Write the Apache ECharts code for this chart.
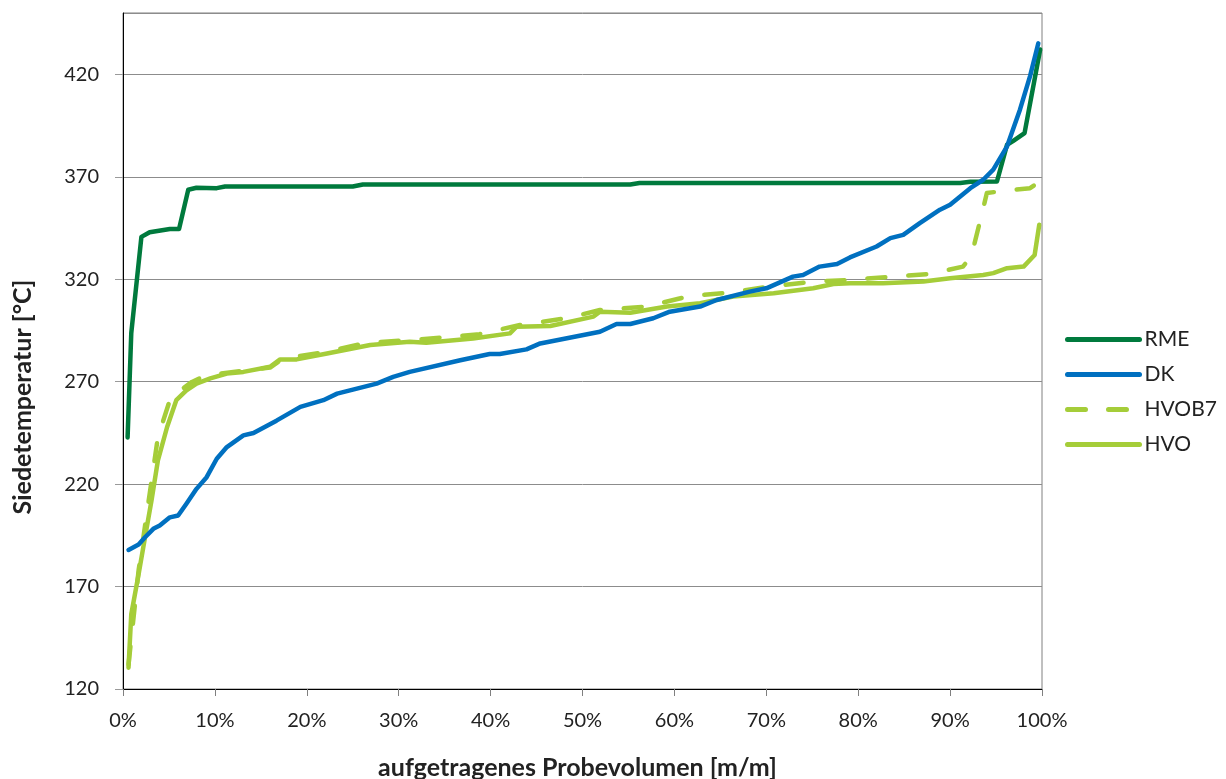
<!DOCTYPE html>
<html>
<head>
<meta charset="utf-8">
<script src="https://cdn.jsdelivr.net/npm/echarts@6/dist/echarts.min.js"></script>
<style>html,body{margin:0;padding:0;background:#fff;}#c{width:1226px;height:779px;}</style>
</head>
<body>
<div id="c"></div>
<script>
// x in percent of sample volume, y in °C
const rme = [[0.5,242.8],[0.9,293.8],[2.0,340.7],[2.9,343.0],[5.1,344.6],[6.1,344.6],[7.1,363.7],[8.0,364.7],[10.2,364.5],[11.1,365.3],[25.0,365.3],[26.1,366.3],[55.2,366.3],[56.2,367.0],[91.1,367.0],[92.2,367.6],[95.1,367.8],[96.2,385.7],[96.8,387.3],[98.1,391.4],[99.8,432.2]];
const dk = [[0.6,187.9],[1.7,190.5],[2.4,194.1],[3.3,198.2],[4.0,199.8],[5.1,203.8],[6.0,204.7],[6.9,210.4],[8.0,217.7],[9.1,223.4],[10.2,232.4],[11.3,238.1],[13.1,243.8],[14.2,245.0],[16.7,251.0],[19.3,257.7],[21.8,261.0],[23.3,264.2],[27.6,269.1],[29.4,272.4],[31.2,274.8],[36.7,280.5],[39.9,283.5],[41.0,283.5],[43.9,285.8],[45.4,288.7],[51.9,294.4],[53.7,298.2],[55.2,298.2],[57.7,301.0],[59.5,304.2],[62.8,306.7],[64.6,309.9],[68.2,314.0],[70.0,315.6],[72.9,321.3],[74.0,322.1],[75.8,326.2],[77.7,327.5],[79.1,330.7],[82.0,336.0],[83.5,340.1],[84.9,341.7],[86.7,347.4],[88.9,354.0],[90.0,356.4],[92.2,364.5],[93.6,368.6],[94.7,373.5],[96.2,384.9],[97.6,402.8],[98.7,419.2],[99.6,435.2]];
const hvob7 = [[0.6,132.0],[1.7,178.0],[2.9,215.2],[3.8,243.0],[5.1,261.0],[5.3,262.6],[7.5,269.9],[9.1,273.2],[12.0,274.8],[16.0,276.9],[17.4,281.3],[22.2,284.6],[26.5,289.0],[31.2,290.3],[34.5,291.5],[38.8,293.2],[43.2,297.7],[48.3,301.0],[51.9,305.0],[57.0,306.7],[61.7,311.9],[66.0,313.5],[70.4,316.5],[75.1,318.9],[79.1,319.7],[83.8,321.3],[87.8,322.6],[91.4,326.2],[92.3,331.1],[93.3,349.1],[94.0,362.1],[96.2,363.4],[98.7,364.5],[99.6,367.3]];
const hvo = [[0.6,130.4],[0.9,156.5],[1.7,176.1],[2.4,194.1],[3.1,212.0],[3.8,231.6],[4.8,247.9],[5.8,261.0],[6.9,265.8],[8.0,269.1],[9.5,271.6],[11.3,274.0],[13.1,274.8],[16.0,277.3],[17.1,280.9],[18.9,280.9],[22.2,283.8],[26.9,287.9],[31.2,289.5],[33.0,289.0],[38.1,291.1],[42.1,293.6],[42.8,296.8],[46.5,297.2],[51.2,301.8],[51.9,304.2],[55.2,303.7],[59.2,306.7],[62.8,308.3],[66.4,311.6],[70.8,313.2],[75.1,315.6],[77.3,317.7],[79.1,318.1],[82.7,318.1],[87.1,318.9],[90.0,320.5],[93.6,322.1],[94.7,323.0],[96.2,325.4],[98.0,326.2],[99.2,331.9],[99.7,346.6]];
const seriesNames = ['RME','DK','HVOB7','HVO'];
const xTitle = 'aufgetragenes Probevolumen [m/m]';
const yTitle = 'Siedetemperatur [°C]';

const FONT = 'Lato';
const chart = echarts.init(document.getElementById('c'), null, {renderer:'canvas'});
function mk(name, data, color, dashed, z){
  return {name, type:'line', data, symbol:'none', showSymbol:false, smooth:false, z,
    lineStyle:{color, width:4.5, type: dashed ? [18,23] : 'solid', cap:'round', join:'round'},
    itemStyle:{color}};
}
chart.setOption({
  animation:false,
  textStyle:{fontFamily:FONT},
  grid:{left:123, right:184, top:13, bottom:90, show:true, borderColor:'#808080', borderWidth:1,
    outerBoundsMode:'none', containLabel:false},
  legend:{orient:'vertical', left:1060, top:324, itemWidth:72, itemHeight:14, itemGap:14,
    data:seriesNames,
    itemStyle:{opacity:0},
    lineStyle:{width:5, cap:'round'},
    textStyle:{fontFamily:FONT, fontSize:21, lineHeight:21, color:'#222', padding:[0,0,0,0]}},
  xAxis:{type:'value', min:0, max:100, interval:10,
    name:xTitle, nameLocation:'middle', nameGap:66,
    nameTextStyle:{fontFamily:FONT, fontSize:25, fontWeight:'bold', color:'#222', padding:[0,10,0,0]},
    axisLine:{show:true, lineStyle:{color:'#000', width:1}},
    axisTick:{show:true, inside:false, length:7, lineStyle:{color:'#808080'}},
    axisLabel:{formatter:'{value}%', fontSize:20, color:'#222', margin:22},
    splitLine:{show:false}},
  yAxis:{type:'value', min:120, max:450, interval:50,
    name:yTitle, nameLocation:'middle', nameGap:88,
    nameTextStyle:{fontFamily:FONT, fontSize:25, fontWeight:'bold', color:'#222', padding:[0,92,0,0]},
    axisLine:{show:true, lineStyle:{color:'#000', width:1}},
    axisTick:{show:true, length:8, lineStyle:{color:'#9a9a9a'}},
    axisLabel:{fontSize:20, color:'#222', margin:24, showMaxLabel:false},
    splitLine:{show:true, lineStyle:{color:'#8c8c8c', width:1}}},
  series:[
    mk('RME', rme, '#007A3D', false, 4),
    mk('DK', dk, '#0070C0', false, 5),
    mk('HVOB7', hvob7, '#A5CD39', true, 3),
    mk('HVO', hvo, '#A5CD39', false, 2)
  ]
});
</script>
</body>
</html>
